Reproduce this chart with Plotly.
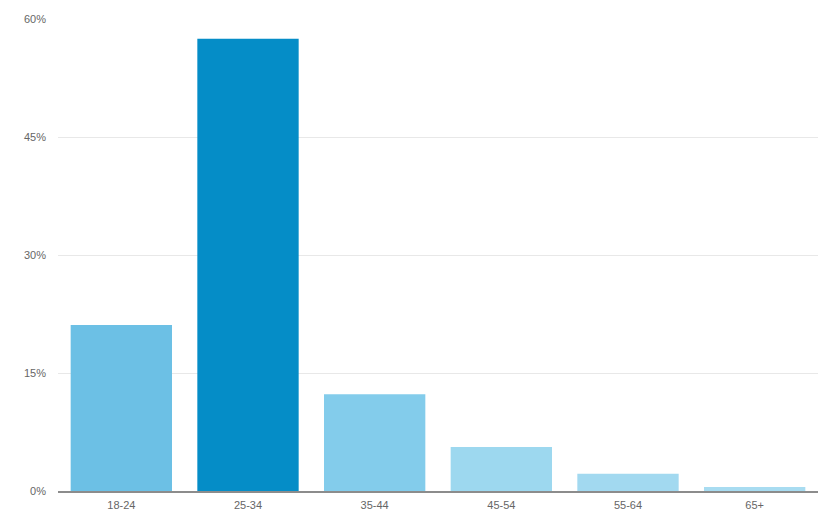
import plotly.graph_objects as go

categories = ["18-24", "25-34", "35-44", "45-54", "55-64", "65+"]
values = [21.1, 57.5, 12.3, 5.6, 2.2, 0.5]
colors = ["#6cc0e5", "#058dc7", "#83cceb", "#9dd8ef", "#a2d9f0", "#a8dcf1"]
tick_vals = [0, 15, 30, 45, 60]
tick_text = ["0%", "15%", "30%", "45%", "60%"]

fig = go.Figure(go.Bar(x=categories, y=values, marker=dict(color=colors, line=dict(width=0)),
                       hoverinfo="skip"))

fig.update_layout(
    width=831, height=519,
    margin=dict(l=58, r=13, t=19, b=28),
    paper_bgcolor="white", plot_bgcolor="white",
    bargap=0.2,
    showlegend=False,
    font=dict(family="Liberation Sans, Arial, sans-serif", size=11, color="#666666"),
)
fig.update_xaxes(showgrid=False, showline=True, linecolor="#8c8c8c", linewidth=1.5,
                 automargin=False,
                 ticks="", ticklabelstandoff=3, tickfont=dict(size=11, color="#666666"))
fig.update_yaxes(range=[0, 60], tickvals=tick_vals, ticktext=tick_text,
                 automargin=False,
                 showgrid=True, gridcolor="#e8e8e8", gridwidth=1, zeroline=False,
                 ticks="", ticklabelstandoff=11, tickfont=dict(size=11, color="#666666"))

fig.write_html("out.html")
